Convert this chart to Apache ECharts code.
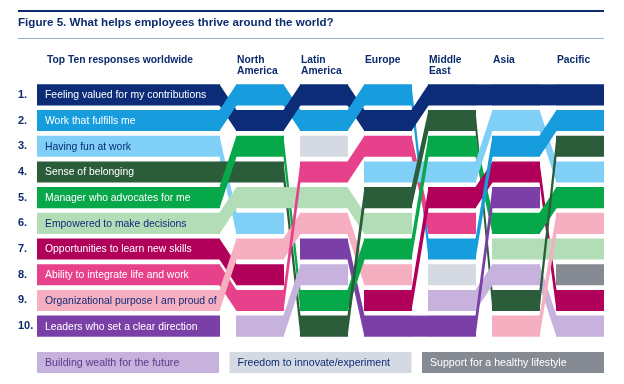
<!DOCTYPE html>
<html><head><meta charset="utf-8">
<script src="https://cdn.jsdelivr.net/npm/echarts@6/dist/echarts.min.js"></script>
<style>html,body{margin:0;padding:0;background:#fff}#c{width:624px;height:384px}</style>
</head><body><div id="c"></div>
<script>
// ---- data ----
const items = [
  'Feeling valued for my contributions',
  'Work that fulfills me',
  'Having fun at work',
  'Sense of belonging',
  'Manager who advocates for me',
  'Empowered to make decisions',
  'Opportunities to learn new skills',
  'Ability to integrate life and work',
  'Organizational purpose I am proud of',
  'Leaders who set a clear direction',
  'Building wealth for the future',
  'Freedom to innovate/experiment',
  'Support for a healthy lifestyle'
];
const regions = ['Top Ten responses worldwide', 'North\nAmerica', 'Latin\nAmerica', 'Europe', 'Middle\nEast', 'Asia', 'Pacific'];
const rankLabels = ['1.', '2.', '3.', '4.', '5.', '6.', '7.', '8.', '9.', '10.'];
// item indices listed from rank 1 to rank 10
const rankWorldwide    = [0, 1, 2, 3, 4, 5, 6, 7, 8, 9];
const rankNorthAmerica = [1, 0, 4, 3, 5, 2, 8, 6, 7, 10];
const rankLatinAmerica = [0, 1, 11, 7, 5, 8, 9, 10, 4, 3];
const rankEurope       = [1, 0, 7, 2, 3, 5, 4, 8, 6, 9];
const rankMiddleEast   = [0, 3, 4, 2, 6, 7, 1, 11, 10, 9];
const rankAsia         = [0, 2, 1, 6, 9, 4, 5, 10, 3, 8];
const rankPacific      = [0, 1, 3, 2, 4, 8, 5, 12, 6, 10];
const rankings = [rankWorldwide, rankNorthAmerica, rankLatinAmerica, rankEurope, rankMiddleEast, rankAsia, rankPacific];
const legendItems = [10, 11, 12];

// ---- styles ----
const itemColors = ['#0c2c78', '#179ddd', '#80cff6', '#2b5d3a', '#07a84a', '#b2ddb6', '#b1005a', '#e8418b', '#f5afc1', '#7b40a8', '#c7b1dd', '#d4d9e2', '#868a93'];
const textColors = ['#ffffff', '#ffffff', '#0c2c78', '#ffffff', '#ffffff', '#0c2c78', '#ffffff', '#ffffff', '#0c2c78', '#ffffff', '#5a3a8c', '#0c2c78', '#ffffff'];
const NAVY = '#0c2c6e';
const FONT = '"Liberation Sans", Arial, sans-serif';
const COL_HALF = 0.375;
const WW_START = -2.484;
const colStart = c => c === 0 ? WW_START : c - COL_HALF;
const colEnd = c => c + COL_HALF;

const segData = [];
const connData = [];
rankings.forEach((rk, c) => {
  rk.forEach((it, r) => {
    segData.push([colStart(c), colEnd(c), r, r, it, c === 0 ? 1 : 0]);
    if (c < rankings.length - 1) {
      const r2 = rankings[c + 1].indexOf(it);
      if (r2 >= 0) connData.push([colEnd(c) - 0.008, colStart(c + 1) + 0.008, r, r2, it, 2]);
    }
  });
});
const headerData = regions.map((name, c) => [colStart(c), 0, c]);

function renderShape(params, api) {
  const x1 = api.value(0), x2 = api.value(1), r1 = api.value(2), r2 = api.value(3);
  const it = api.value(4), kind = api.value(5);
  const p1 = api.coord([x1, r1]);
  const p2 = api.coord([x2, r2]);
  const h = api.size([0, 1])[1] * 0.82 / 2;
  const poly = {
    type: 'polygon',
    shape: { points: [[p1[0], p1[1] - h], [p2[0], p2[1] - h], [p2[0], p2[1] + h], [p1[0], p1[1] + h]] },
    style: { fill: itemColors[it] }
  };
  if (kind === 1) {
    return {
      type: 'group',
      children: [poly, {
        type: 'text', x: p1[0] + 8, y: p1[1] + 0.5,
        style: { text: items[it], fill: textColors[it], font: '10.4px ' + FONT, verticalAlign: 'middle', align: 'left' }
      }]
    };
  }
  return poly;
}

function renderHeader(params, api) {
  const c = api.value(2);
  const p = api.coord([api.value(0), api.value(1)]);
  return {
    type: 'text', x: p[0] + (c === 0 ? 10 : 1), y: p[1] - 40,
    style: { text: regions[c], fill: NAVY, font: 'bold 10.3px ' + FONT, lineHeight: 11, verticalAlign: 'top', align: 'left' }
  };
}

const legendGraphics = legendItems.map((it, i) => ({
  type: 'group', left: 37 + i * 192.5, top: 352,
  children: [
    { type: 'rect', shape: { x: 0, y: 0, width: 182, height: 21 }, style: { fill: itemColors[it] } },
    { type: 'text', x: 8, y: 11, style: { text: items[it], fill: textColors[it], font: '10.6px ' + FONT, verticalAlign: 'middle' } }
  ]
}));

const chart = echarts.init(document.getElementById('c'), null, { renderer: 'canvas' });
chart.setOption({
  animation: false,
  backgroundColor: '#ffffff',
  grid: { left: 37, right: 20, top: 82, height: 257 },
  xAxis: { type: 'value', min: WW_START, max: 6.375, show: false },
  yAxis: {
    type: 'category', data: rankLabels, inverse: true,
    axisLine: { show: false }, axisTick: { show: false }, splitLine: { show: false },
    axisLabel: { align: 'left', margin: 19, color: NAVY, fontWeight: 'bold', fontSize: 11, fontFamily: FONT }
  },
  graphic: [
    { type: 'rect', shape: { x: 18, y: 10, width: 586, height: 2 }, style: { fill: NAVY } },
    { type: 'text', x: 18, y: 23, style: { text: 'Figure 5. What helps employees thrive around the world?', fill: NAVY, font: 'bold 11.6px ' + FONT, verticalAlign: 'middle' } },
    { type: 'rect', shape: { x: 18, y: 38, width: 586, height: 1 }, style: { fill: '#9fb0cc' } },
    ...legendGraphics
  ],
  series: [
    { type: 'custom', renderItem: renderShape, data: segData, encode: { x: [0, 1], y: [2, 3] }, clip: false },
    { type: 'custom', renderItem: renderShape, data: connData, encode: { x: [0, 1], y: [2, 3] }, clip: false },
    { type: 'custom', renderItem: renderHeader, data: headerData, encode: { x: 0, y: 1 }, clip: false }
  ]
});
</script>
</body></html>
